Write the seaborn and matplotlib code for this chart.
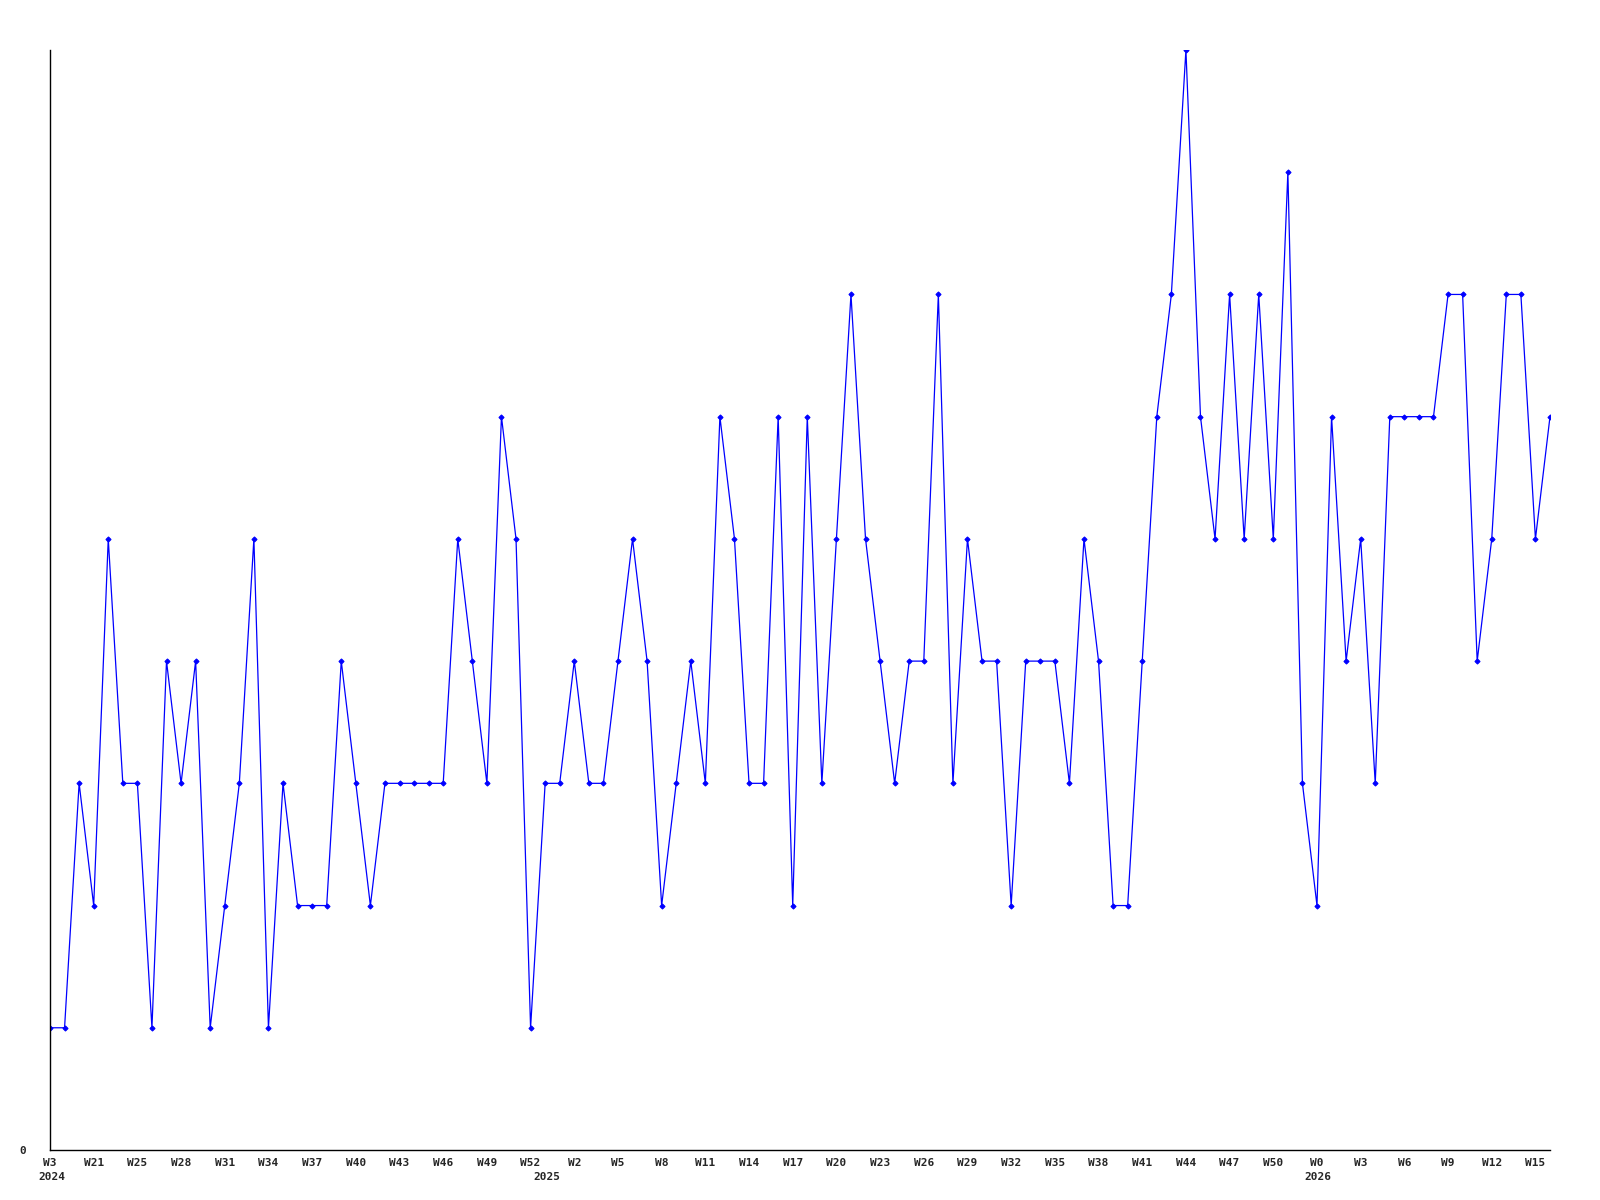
import matplotlib
matplotlib.use("Agg")
import matplotlib.pyplot as plt
import seaborn as sns
import pandas as pd

# ---- data ----
values = [1, 1, 3, 2, 5, 3, 3, 1, 4, 3, 4, 1, 2, 3, 5, 1, 3, 2, 2, 2,
          4, 3, 2, 3, 3, 3, 3, 3, 5, 4, 3, 6, 5, 1, 3, 3, 4, 3, 3, 4,
          5, 4, 2, 3, 4, 3, 6, 5, 3, 3, 6, 2, 6, 3, 5, 7, 5, 4, 3, 4,
          4, 7, 3, 5, 4, 4, 2, 4, 4, 4, 3, 5, 4, 2, 2, 4, 6, 7, 9, 6,
          5, 7, 5, 7, 5, 8, 3, 2, 6, 4, 5, 3, 6, 6, 6, 6, 7, 7, 4, 5,
          7, 7, 5, 6]
week_labels = ["W3", "W21", "W25", "W28", "W31", "W34", "W37", "W40", "W43",
               "W46", "W49", "W52", "W2", "W5", "W8", "W11", "W14", "W17",
               "W20", "W23", "W26", "W29", "W32", "W35", "W38", "W41", "W44",
               "W47", "W50", "W0", "W3", "W6", "W9", "W12", "W15"]
year_labels = ["2024", "2025", "2026"]
year_label_x = [-0.8, 33.2, 86.1]

df = pd.DataFrame({"idx": range(len(values)), "value": values})

sns.set_theme(style="white")
plt.rcParams["font.family"] = ["DejaVu Sans Mono", "DejaVu Sans"]

fig = plt.figure(figsize=(16, 12), dpi=100)
ax = fig.add_axes([50 / 1600, 50 / 1200, 1500 / 1600, 1100 / 1200])

sns.lineplot(data=df, x="idx", y="value", ax=ax, color="#0000FF",
             linewidth=0.9, marker="D", markersize=2.6,
             markeredgecolor="#0000FF", markerfacecolor="#0000FF")

ax.set_xlim(0, len(values) - 1)
ax.set_ylim(0, 9)
ax.set_xlabel("")
ax.set_ylabel("")

ax.set_xticks(range(0, 3 * len(week_labels), 3))
ax.set_xticklabels(week_labels, fontsize=8, fontweight="bold")
ax.set_yticks([0])
ax.set_yticklabels(["0"], fontsize=8, fontweight="bold")
ax.tick_params(axis="x", length=0, pad=6)
ax.tick_params(axis="y", length=0, pad=17)

for lab, xp in zip(year_labels, year_label_x):
    ax.text(xp, -0.22, lab, ha="left", va="center", fontsize=8,
            fontweight="bold", transform=ax.transData, clip_on=False)

for s in ["top", "right"]:
    ax.spines[s].set_visible(False)
for s in ["left", "bottom"]:
    ax.spines[s].set_color("black")
    ax.spines[s].set_linewidth(1.0)

fig.patch.set_facecolor("white")
ax.set_facecolor("white")
fig.savefig("out.png", dpi=100)
